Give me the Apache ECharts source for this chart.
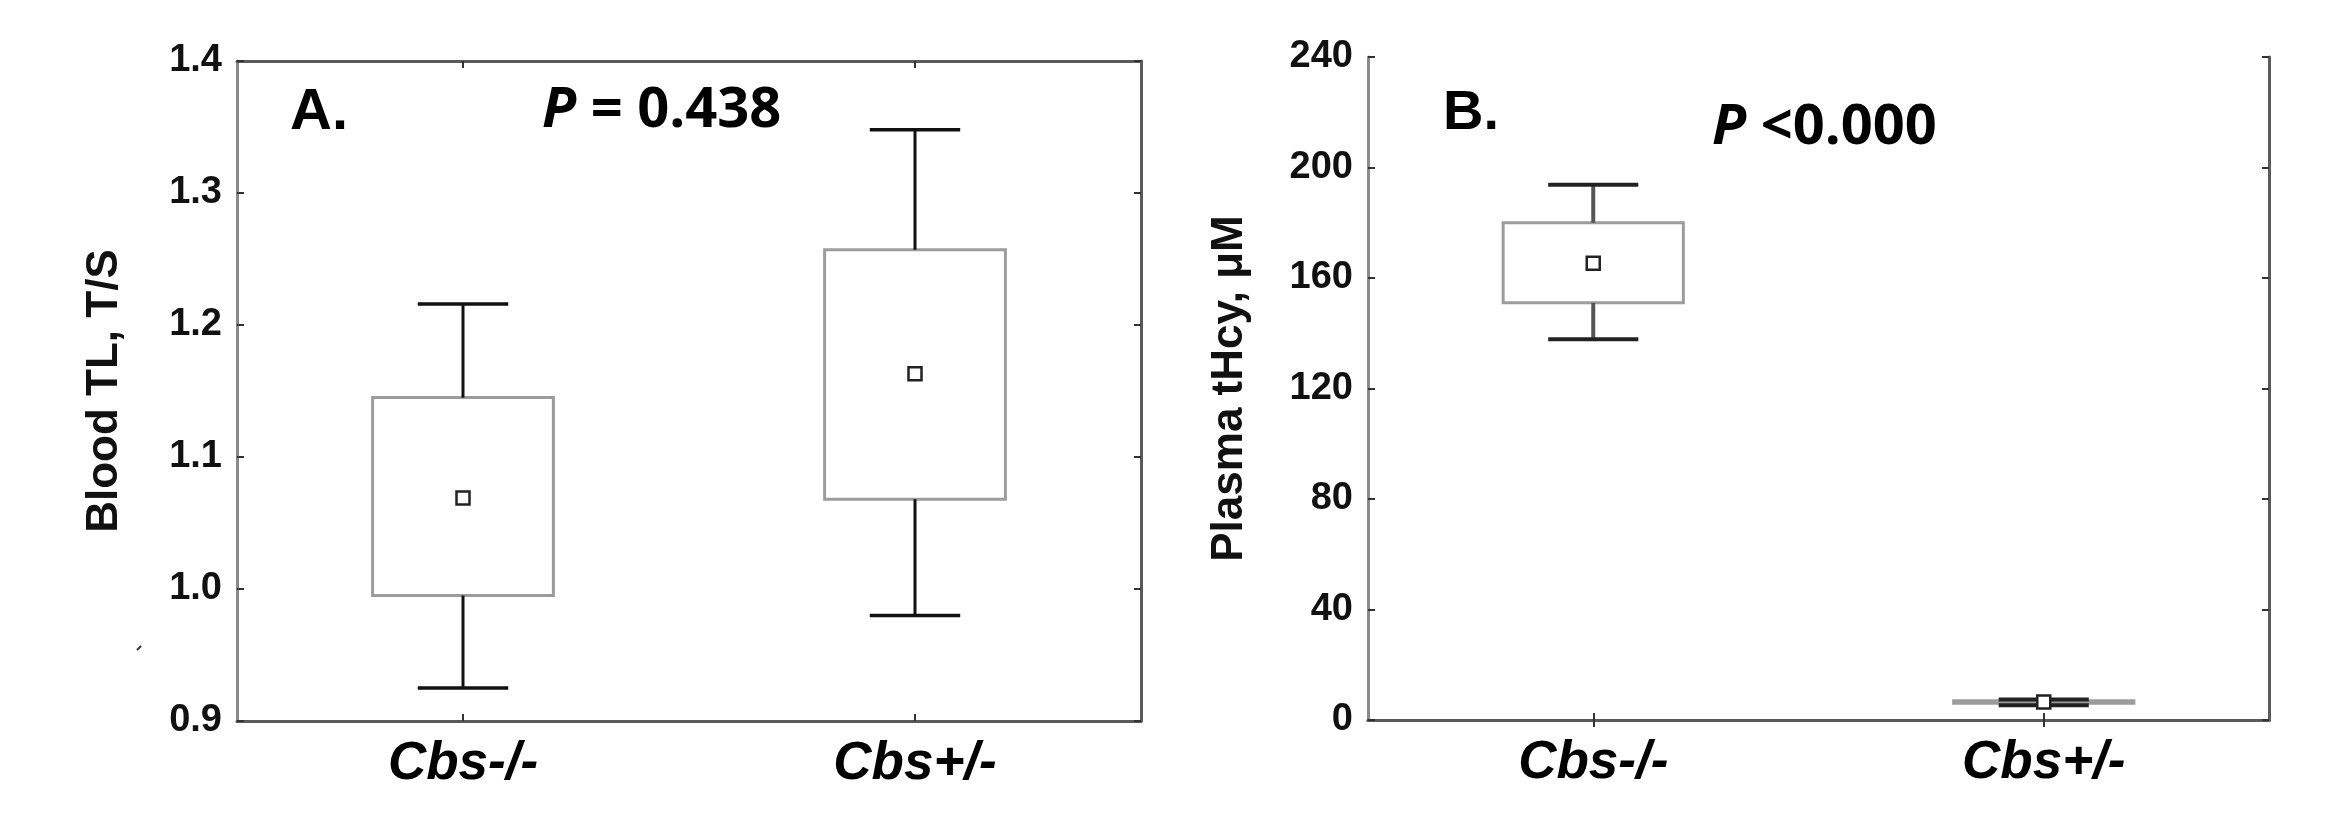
<!DOCTYPE html>
<html>
<head>
<meta charset="utf-8">
<script src="https://cdn.jsdelivr.net/npm/echarts@6/dist/echarts.min.js"></script>
<style>
html,body{margin:0;padding:0;background:#fff;}
#chart{width:2333px;height:831px;}
</style>
</head>
<body>
<div id="chart"></div>
<script>
// ---- data ----
const categories = ['Cbs-/-', 'Cbs+/-'];

// Panel A: Blood TL, T/S
const tlLow  = [0.925, 0.980];
const tlQ1   = [0.995, 1.068];
const tlMean = [1.069, 1.163];
const tlQ3   = [1.145, 1.257];
const tlHigh = [1.216, 1.348];
const tlTicks = [0.9, 1.0, 1.1, 1.2, 1.3, 1.4];
const tlInterval = 0.1;

// Panel B: Plasma tHcy, µM
const hcyLow  = [137.8, 5.3];
const hcyQ1   = [151.0, 6.1];
const hcyMean = [165.3, 6.5];
const hcyQ3   = [180.0, 7.0];
const hcyHigh = [193.8, 7.4];
const hcyTicks = [0, 40, 80, 120, 160, 200, 240];
const hcyInterval = 40;

const textA = 'A.';
const textB = 'B.';
const pA = ' = 0.438';
const pB = ' <0.000';

// ---- build ----
function rows(low, q1, mean, q3, high) {
  return categories.map((c, i) => [i, low[i], q1[i], mean[i], q3[i], high[i]]);
}

function makeRender(whiskerColor, capColor, whiskerW, capW) {
  return function (params, api) {
    const xi = api.value(0);
    const pLow = api.coord([xi, api.value(1)]);
    const pQ1 = api.coord([xi, api.value(2)]);
    const pMean = api.coord([xi, api.value(3)]);
    const pQ3 = api.coord([xi, api.value(4)]);
    const pHigh = api.coord([xi, api.value(5)]);
    const band = api.size([1, 0])[0];
    const bw = band * 0.40;
    const cw = band * 0.20;
    const cx = pLow[0];
    const sq = 13;
    return {
      type: 'group',
      children: [
        {
          type: 'rect',
          shape: { x: cx - bw / 2, y: pQ3[1], width: bw, height: pQ1[1] - pQ3[1] },
          style: { fill: '#fff', stroke: '#9c9c9c', lineWidth: 3 }
        },
        {
          type: 'line',
          shape: { x1: cx, y1: pHigh[1], x2: cx, y2: pQ3[1] },
          style: { stroke: whiskerColor, lineWidth: whiskerW }
        },
        {
          type: 'line',
          shape: { x1: cx, y1: pQ1[1], x2: cx, y2: pLow[1] },
          style: { stroke: whiskerColor, lineWidth: whiskerW }
        },
        {
          type: 'line',
          shape: { x1: cx - cw / 2, y1: pHigh[1], x2: cx + cw / 2, y2: pHigh[1] },
          style: { stroke: capColor, lineWidth: capW }
        },
        {
          type: 'line',
          shape: { x1: cx - cw / 2, y1: pLow[1], x2: cx + cw / 2, y2: pLow[1] },
          style: { stroke: capColor, lineWidth: capW }
        },
        {
          type: 'rect',
          shape: { x: cx - sq / 2, y: pMean[1] - sq / 2, width: sq, height: sq },
          style: { fill: '#fff', stroke: '#222', lineWidth: 2.5 }
        }
      ]
    };
  };
}

const tickFont = { fontFamily: 'Liberation Sans', fontWeight: 'bold', fontSize: 38, color: '#111' };
const catFont = { fontFamily: 'Liberation Sans', fontWeight: 'bold', fontStyle: 'italic', fontSize: 53, color: '#000' };
const nameFont = { fontFamily: 'Liberation Sans', fontWeight: 'bold', fontSize: 44, color: '#111' };

function xPair(gridIndex) {
  const line = { show: true, lineStyle: { color: '#5a5a5a', width: 3 } };
  const tick = { show: true, inside: true, alignWithLabel: true, length: 7, lineStyle: { color: '#333', width: 2 } };
  return [
    {
      type: 'category', gridIndex, data: categories, position: 'bottom', boundaryGap: true,
      axisLine: line, axisTick: tick,
      axisLabel: Object.assign({ margin: 17 }, catFont),
      splitLine: { show: false }
    },
    {
      type: 'category', gridIndex, data: categories, position: 'top', boundaryGap: true,
      axisLine: line, axisTick: tick, axisLabel: { show: false }, splitLine: { show: false }
    }
  ];
}

function yPair(gridIndex, ticks, interval, name, nameGap, fmt) {
  const tick = { show: true, inside: true, length: 7, lineStyle: { color: '#333', width: 2 } };
  return [
    {
      type: 'value', gridIndex, position: 'left',
      min: ticks[0], max: ticks[ticks.length - 1], interval,
      name, nameLocation: 'middle', nameGap, nameTextStyle: nameFont,
      axisLine: { show: true, lineStyle: { color: '#8a8a8a', width: 3 } },
      axisTick: tick,
      axisLabel: Object.assign({ margin: 15, formatter: fmt }, tickFont),
      splitLine: { show: false }
    },
    {
      type: 'value', gridIndex, position: 'right',
      min: ticks[0], max: ticks[ticks.length - 1], interval,
      axisLine: { show: true, lineStyle: { color: '#5a5a5a', width: 3 } },
      axisTick: tick, axisLabel: { show: false }, splitLine: { show: false }
    }
  ];
}

const labelFont = 'Liberation Sans';
const pFont = 'Open Sans';

const option = {
  backgroundColor: '#fff',
  animation: false,
  grid: [
    { left: 237, top: 61, width: 904, height: 660 },
    { left: 1368, top: 57, width: 901, height: 663 }
  ],
  xAxis: [].concat(xPair(0), xPair(1)),
  yAxis: [].concat(
    yPair(0, tlTicks, tlInterval, 'Blood TL, T/S', 110, v => v.toFixed(1)),
    yPair(1, hcyTicks, hcyInterval, 'Plasma tHcy, \u03bcM', 116, v => String(v))
  ),
  series: [
    {
      type: 'custom', xAxisIndex: 0, yAxisIndex: 0,
      renderItem: makeRender('#111', '#111', 3, 3.5),
      encode: { x: 0, y: [1, 2, 3, 4, 5] },
      data: rows(tlLow, tlQ1, tlMean, tlQ3, tlHigh)
    },
    {
      type: 'custom', xAxisIndex: 2, yAxisIndex: 2,
      renderItem: makeRender('#555', '#222', 4, 4),
      encode: { x: 0, y: [1, 2, 3, 4, 5] },
      data: rows(hcyLow, hcyQ1, hcyMean, hcyQ3, hcyHigh)
    }
  ],
  graphic: [
    {
      type: 'text', left: 290, top: 84,
      style: { text: textA, fontFamily: labelFont, fontWeight: 'bold', fontSize: 58, fill: '#000' }
    },
    {
      type: 'text', left: 1443, top: 86,
      style: { text: textB, fontFamily: labelFont, fontWeight: 'bold', fontSize: 56, fill: '#000' }
    },
    {
      type: 'text', left: 542, top: 83,
      style: {
        text: '{i|P}{n|' + pA + '}',
        rich: {
          i: { fontFamily: pFont, fontWeight: 'bold', fontStyle: 'italic', fontSize: 56, fill: '#000' },
          n: { fontFamily: pFont, fontWeight: 'bold', fontSize: 56, fill: '#000' }
        }
      }
    },
    {
      type: 'text', left: 1712, top: 100,
      style: {
        text: '{i|P}{n|' + pB + '}',
        rich: {
          i: { fontFamily: pFont, fontWeight: 'bold', fontStyle: 'italic', fontSize: 56, fill: '#000' },
          n: { fontFamily: pFont, fontWeight: 'bold', fontSize: 56, fill: '#000' }
        }
      }
    },
    {
      type: 'line',
      shape: { x1: 137, y1: 650, x2: 141, y2: 646 },
      style: { stroke: '#333', lineWidth: 2 }
    }
  ]
};

const chart = echarts.init(document.getElementById('chart'), null, { renderer: 'canvas' });
chart.setOption(option);
</script>
</body>
</html>
